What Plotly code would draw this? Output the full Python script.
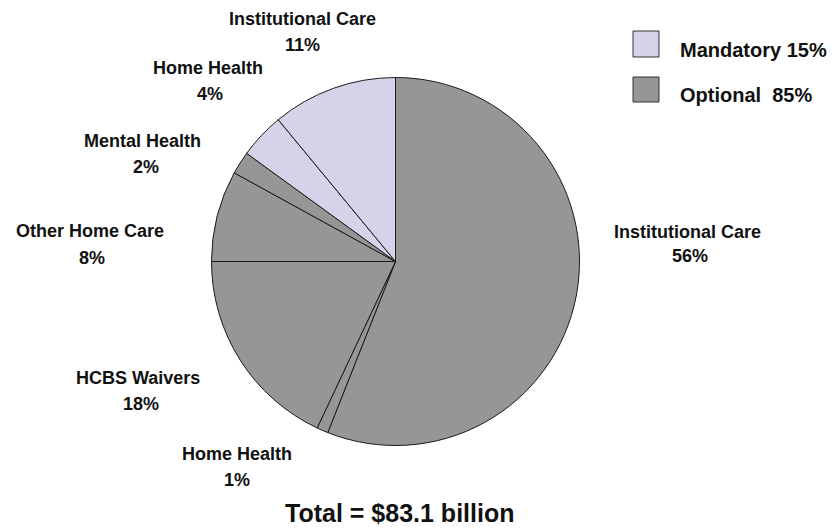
import plotly.graph_objects as go

# Medicaid long-term care spending by service, share of total
categories = ["Institutional Care", "Home Health", "HCBS Waivers",
              "Other Home Care", "Mental Health", "Home Health",
              "Institutional Care"]
groups = ["Optional", "Optional", "Optional", "Optional", "Optional",
          "Mandatory", "Mandatory"]
shares = [56, 1, 18, 8, 2, 4, 11]
total_billion = 83.1

legend_groups = ["Mandatory", "Optional"]

W, H = 835, 529
FONT = "Liberation Sans, Arial, sans-serif"
colors = {"Mandatory": "#D4D3EA", "Optional": "#969696"}


def px(x):
    return x / W


def py(y):
    return 1 - y / H


# pie geometry (pixels)
cx, cy, r = 395.5, 261.5, 184

fig = go.Figure()
fig.add_trace(go.Pie(
    labels=[f"{g}: {c}" for g, c in zip(groups, categories)],
    values=shares,
    sort=False,
    direction="clockwise",
    rotation=0,
    textinfo="none",
    hoverinfo="label+percent",
    showlegend=False,
    marker=dict(colors=[colors[g] for g in groups],
                line=dict(color="#1a1a1a", width=1)),
    domain=dict(x=[px(cx - r), px(cx + r)], y=[py(cy + r), py(cy - r)]),
))

# label anchor positions (pixel centres of name line / percent line)
label_pos = [
    (687, 231.5, 690, 255.5),
    (237, 453.5, 237, 479.5),
    (138, 377.5, 141, 403.5),
    (90, 230.5, 92, 257.5),
    (142, 140.5, 146, 166.5),
    (208, 67.5, 210, 93.5),
    (302, 18.5, 302, 44.5),
]

annotations = []
for cat, val, (nx, ny, vx, vy) in zip(categories, shares, label_pos):
    annotations.append(dict(x=px(nx), y=py(ny), xref="paper", yref="paper",
                            text=f"<b>{cat}</b>", showarrow=False,
                            xanchor="center", yanchor="middle",
                            font=dict(family=FONT, size=18, color="#111")))
    annotations.append(dict(x=px(vx), y=py(vy), xref="paper", yref="paper",
                            text=f"<b>{val}%</b>", showarrow=False,
                            xanchor="center", yanchor="middle",
                            font=dict(family=FONT, size=18, color="#111")))

# legend: swatches and group totals
group_totals = {g: sum(v for v, gg in zip(shares, groups) if gg == g)
                for g in legend_groups}
legend_rows = {"Mandatory": (31, 57, 49.7),
               "Optional": (77, 102, 94.7)}
shapes = []
for g in legend_groups:
    y0, y1, ty = legend_rows[g]
    shapes.append(dict(type="rect", xref="paper", yref="paper",
                       x0=px(633), x1=px(659), y0=py(y1), y1=py(y0),
                       fillcolor=colors[g], line=dict(color="#333", width=1)))
    sep = " " if g == "Mandatory" else "&nbsp; "
    annotations.append(dict(x=px(678), y=py(ty), xref="paper", yref="paper",
                            text=f"<b>{g}{sep}{group_totals[g]}%</b>",
                            showarrow=False, xanchor="left", yanchor="middle",
                            font=dict(family=FONT, size=20, color="#111")))

annotations.append(dict(x=px(399), y=py(512.5), xref="paper", yref="paper",
                        text=f"<b>Total = ${total_billion} billion</b>",
                        showarrow=False, xanchor="center", yanchor="middle",
                        font=dict(family=FONT, size=25, color="#111")))

fig.update_layout(
    width=W, height=H,
    margin=dict(l=0, r=0, t=0, b=0),
    paper_bgcolor="white", plot_bgcolor="white",
    annotations=annotations, shapes=shapes,
)

fig.write_html("out.html")
